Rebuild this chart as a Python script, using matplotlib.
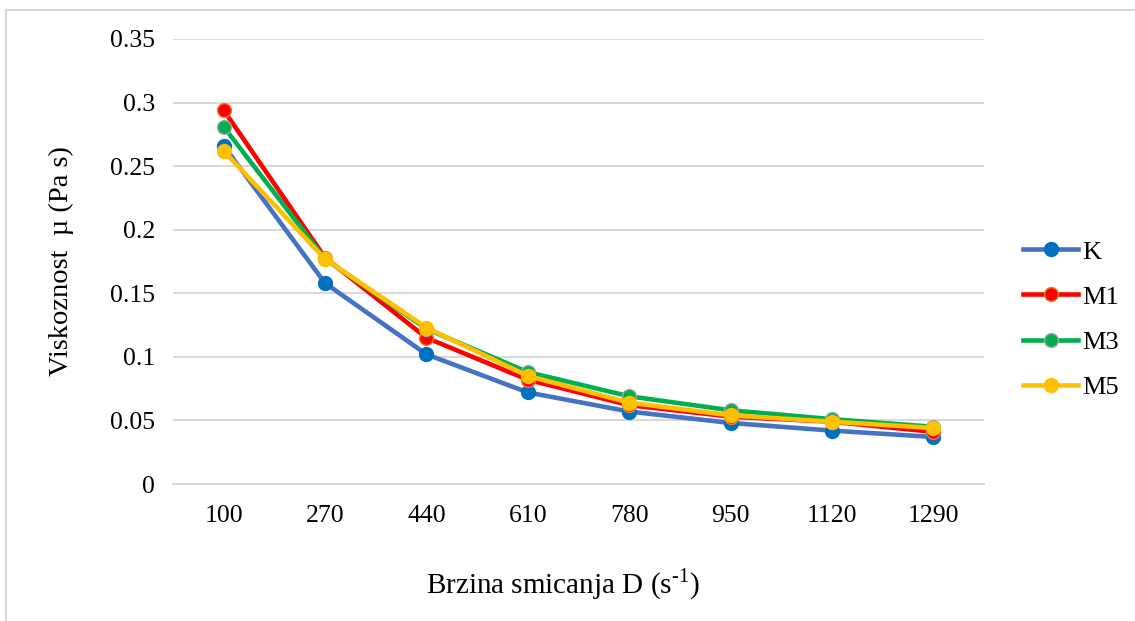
import matplotlib
matplotlib.use("Agg")
import numpy as np
import matplotlib.pyplot as plt
from matplotlib.patches import Rectangle

plt.rcParams['font.family'] = ['Liberation Serif', 'DejaVu Serif']
plt.rcParams['mathtext.fontset'] = 'custom'
plt.rcParams['mathtext.rm'] = 'Liberation Serif'

# shear rate categories
shear = ['100', '270', '440', '610', '780', '950', '1120', '1290']

# viscosity (Pa s)
K  = [0.266, 0.158, 0.102, 0.072, 0.057, 0.048, 0.042, 0.037]
M1 = [0.294, 0.178, 0.115, 0.082, 0.062, 0.053, 0.049, 0.041]
M3 = [0.281, 0.177, 0.122, 0.088, 0.069, 0.058, 0.051, 0.045]
M5 = [0.262, 0.177, 0.123, 0.085, 0.064, 0.054, 0.049, 0.044]

series_names = ['K', 'M1', 'M3', 'M5']
yticks = [0, 0.05, 0.1, 0.15, 0.2, 0.25, 0.3, 0.35]
ytick_labels = ['0', '0.05', '0.1', '0.15', '0.2', '0.25', '0.3', '0.35']

# line color, marker face, marker edge
styles = [('#4472C4', '#0070C0', '#0070C0'),
          ('#FF0000', '#FF0000', '#ED7D31'),
          ('#00B050', '#00B050', '#A5A5A5'),
          ('#FFC000', '#FFC000', '#FFC000')]

fig = plt.figure(figsize=(11.35, 6.21), dpi=100)
ax = fig.add_axes([0.1524, 0.2206, 0.7146, 0.7166])

x = np.arange(len(shear))
for data, name, (lc, fc, ec) in zip([K, M1, M3, M5], series_names, styles):
  ax.plot(x, data, color=lc, lw=3.3, marker='o', ms=10,
          mfc=fc, mec=ec, mew=1.0, label=name, solid_joinstyle='round')

ax.set_xlim(-0.5, len(shear) - 0.5)
ax.set_ylim(0, 0.35)
ax.set_xticks(x)
ax.set_xticklabels(shear)
ax.set_yticks(yticks)
ax.set_yticklabels(ytick_labels)
ax.yaxis.grid(True, color='#D9D9D9', lw=1.5)
ax.set_axisbelow(True)
for s in ['top', 'right', 'left']:
  ax.spines[s].set_visible(False)
ax.spines['bottom'].set_color('#D9D9D9')
ax.spines['bottom'].set_linewidth(1.5)
ax.tick_params(axis='both', length=0, labelsize=18.5, colors='black')
ax.tick_params(axis='y', pad=13)
ax.tick_params(axis='x', pad=15)

ax.set_xlabel('Brzina smicanja D (s$^{\\text{-}\\mathregular{1}}$)', fontsize=21)
ax.xaxis.set_label_coords(0.481, -0.185)
ax.set_ylabel('Viskoznost  \u00b5 (Pa s)', fontsize=20.5)
ax.yaxis.set_label_coords(-0.122, 0.5)

ax.legend(loc='center left', bbox_to_anchor=(1023 / 1135, 1 - 319.5 / 621),
          bbox_transform=fig.transFigure, frameon=False, fontsize=19,
          borderpad=0, borderaxespad=0, handlelength=2.1, handletextpad=0.15,
          labelspacing=0.82)

# light frame on the top and left edge, like the exported chart area
fig.patches.append(Rectangle((5.5 / 1135, -0.1), 1.2, 1.1 - 9.7 / 621,
                             transform=fig.transFigure, fill=False,
                             edgecolor='#D9D9D9', lw=1.5))

fig.savefig('out.png', dpi=100)
